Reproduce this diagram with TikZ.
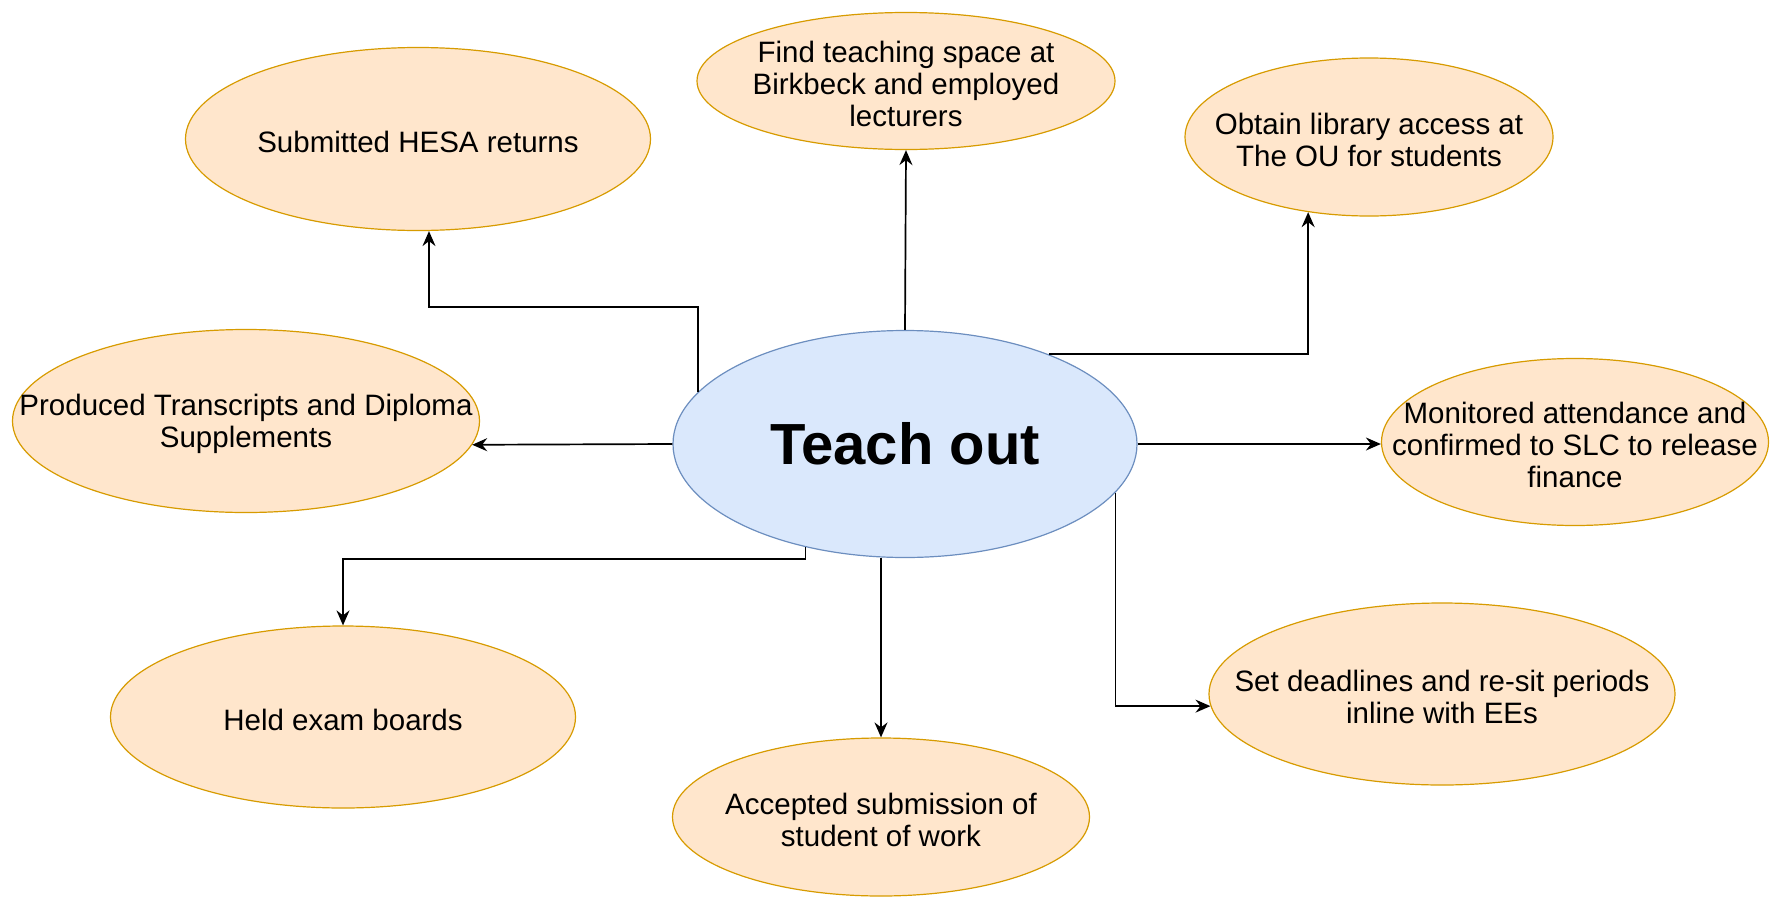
\documentclass[tikz,border=0pt]{standalone}
\usepackage{fontspec}
\setmainfont{Liberation Sans}
\usetikzlibrary{shapes,arrows.meta,calc}
\definecolor{taskfill}{HTML}{FFE6CC}
\definecolor{taskdraw}{HTML}{D79B00}
\definecolor{hubfill}{HTML}{DAE8FC}
\definecolor{hubdraw}{HTML}{6C8EBF}
\tikzset{
    task/.style={
        ellipse,
        draw=taskdraw,
        fill=taskfill,
        line width=1.2pt,
        inner sep=0pt,
    },
    tasktext/.style={
        align=center,
        yshift=-3pt,
        font=\fontsize{29.5}{32}\selectfont,
    },
    hub/.style={
        ellipse,
        draw=hubdraw,
        fill=hubfill,
        line width=1.2pt,
        inner sep=0pt,
        font=\fontsize{58}{62}\selectfont\bfseries,
    },
    flow/.style={
        draw,
        -{Stealth[length=15pt,width=13pt,inset=5pt]},
        line width=1.7pt,
    },
  }

\begin{document}
\begin{tikzpicture}[x=1pt,y=-1pt]
              \useasboundingbox (0,0) rectangle (1770,897);

              \node [hub,minimum width=464pt,minimum height=227pt] (hub) at (905,444) {Teach out};

              \node [task,minimum width=418pt,minimum height=137pt,
                     label={[tasktext]center:Find teaching space at\\Birkbeck and employed\\lecturers}] (space) at (906,81) {};
              \node [task,minimum width=465pt,minimum height=183pt,
                     label={[tasktext]center:Submitted HESA returns}] (hesa) at (418,139) {};
              \node [task,minimum width=368pt,minimum height=158pt,
                     label={[tasktext]center:Obtain library access at\\The OU for students}] (library) at (1369,137) {};
              \node [task,minimum width=467pt,minimum height=183pt,
                     label={[tasktext]center:Produced Transcripts and Diploma\\Supplements}] (transcripts) at (246,421) {};
              \node [task,minimum width=387pt,minimum height=167pt,
                     label={[tasktext]center:Monitored attendance and\\confirmed to SLC to release\\finance}] (attendance) at (1575,442) {};
              \node [task,minimum width=465pt,minimum height=182pt,
                     label={[tasktext]center:Held exam boards}] (exams) at (343,717) {};
              \node [task,minimum width=417pt,minimum height=158pt,
                     label={[tasktext]center:Accepted submission of\\student of work}] (submission) at (881,817) {};
              \node [task,minimum width=466pt,minimum height=182pt,
                     label={[tasktext]center:Set deadlines and re-sit periods\\inline with EEs}] (deadlines) at (1442,694) {};

              % arrows out of the hub
              \draw [flow] (hub.166) -- ++(0,-85) -| ([xshift=11pt]hesa.south);
              \draw [flow] (hub.north) -- (space.south);
              \draw [flow] (hub.32) -| (library.231);
              \draw [flow] (hub.west) -- (transcripts.-6);
              \draw [flow] (hub.east) -- (hub.east -| attendance.west);
              \draw [flow] (hub.226) -- ++(0,12) -| (exams.north);
              \draw [flow] (hub.south -| submission.north) -- (submission.north);
              \draw [flow] (hub.-13) |- (deadlines.183);

            \end{tikzpicture}
\end{document}
